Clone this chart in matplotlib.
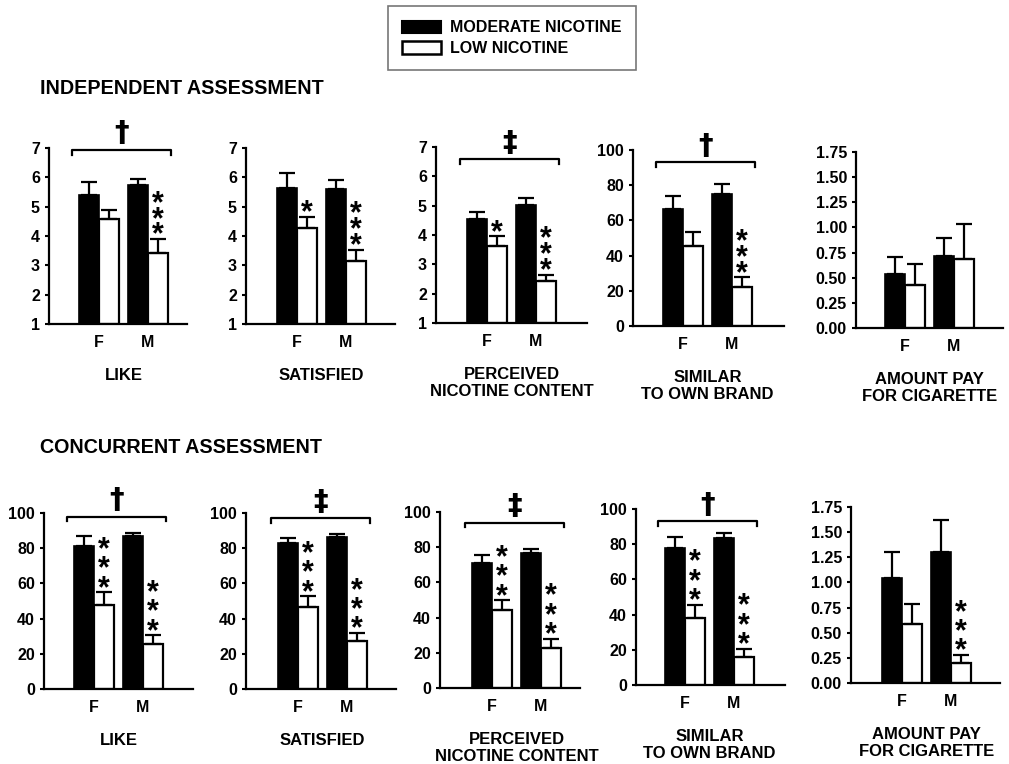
import numpy as np
import matplotlib
matplotlib.use("Agg")
import matplotlib.pyplot as plt
from matplotlib.patches import Patch

plt.rcParams['font.family'] = ['Liberation Sans', 'DejaVu Sans']
plt.rcParams['font.weight'] = 'bold'

# ---- data ----
groups = ["F", "M"]
titles = ["LIKE", "SATISFIED", "PERCEIVED\nNICOTINE CONTENT",
          "SIMILAR\nTO OWN BRAND", "AMOUNT PAY\nFOR CIGARETTE"]

# independent assessment
indep_mod = [[5.41, 5.75], [5.65, 5.61], [4.56, 5.01], [66.5, 74.8], [0.54, 0.72]]
indep_mod_err = [[0.42, 0.19], [0.50, 0.31], [0.23, 0.24], [7.4, 5.9], [0.17, 0.17]]
indep_low = [[4.58, 3.42], [4.27, 3.14], [3.64, 2.42], [45.5, 22.2], [0.43, 0.69]]
indep_low_err = [[0.32, 0.48], [0.38, 0.39], [0.31, 0.23], [7.9, 5.6], [0.21, 0.34]]
indep_stars = [[0, 3], [1, 3], [1, 3], [0, 3], [0, 0]]
indep_sig = ["\u2020", "", "\u2021", "\u2020", ""]

# concurrent assessment
conc_mod = [[81.3, 87.0], [82.8, 86.6], [71.3, 76.6], [77.7, 83.6], [1.04, 1.30]]
conc_mod_err = [[5.5, 1.5], [3.0, 1.7], [4.2, 2.4], [6.3, 2.8], [0.26, 0.32]]
conc_low = [[47.5, 25.5], [46.8, 27.0], [44.5, 23.0], [38.3, 15.8], [0.59, 0.20]]
conc_low_err = [[7.5, 5.1], [6.0, 4.9], [5.5, 5.1], [7.4, 4.8], [0.20, 0.08]]
conc_stars = [[3, 3], [3, 3], [3, 3], [3, 3], [0, 3]]
conc_sig = ["\u2020", "\u2021", "\u2021", "\u2020", ""]

indep_scales = [(1, 7, 1), (1, 7, 1), (1, 7, 1), (0, 100, 20), (0, 1.75, 0.25)]
conc_scales = [(0, 100, 20), (0, 100, 20), (0, 100, 20), (0, 100, 20), (0, 1.75, 0.25)]

# ---- layout (pixels) ----
W, H = 1009, 764
UNIT = 49.0   # px between F and M
# left, right, y of axis bottom, y of axis top, x of F group
top_boxes = [(49, 187, 324, 148, 99), (246, 395, 324, 148, 297), (436, 587, 323, 147, 487),
             (633, 784, 326, 150, 683), (856, 1003, 328, 152, 905)]
bot_boxes = [(44, 193, 689, 513, 94), (246, 396, 689, 513, 298), (440, 580, 688, 512, 492),
             (636, 785, 685, 509, 685), (851, 1000, 683, 507, 902)]
top_bracket_y = [0.99, None, 0.93, 0.93, None]
bot_bracket_y = [0.98, 0.97, 0.94, 0.93, None]

fig = plt.figure(figsize=(W / 100, H / 100), dpi=100)


def panel(box, scale, mod, mod_err, low, low_err, stars, sig, bracket_y, title, star_ls):
    left, right, yb, yt, fx = box
    ax = fig.add_axes([left / W, 1 - yb / H, (right - left) / W, (yb - yt) / H])
    x = np.arange(len(groups))
    w = 0.4
    ymin, ymax, step = scale
    ax.bar(x - w / 2, np.array(mod) - ymin, w, bottom=ymin, color='black', edgecolor='black', lw=1.2)
    ax.bar(x + w / 2, np.array(low) - ymin, w, bottom=ymin, color='white', edgecolor='black', lw=1.6)
    ax.errorbar(x - w / 2, mod, yerr=[np.zeros(2), mod_err], fmt='none', ecolor='black',
                elinewidth=1.6, capsize=5.5, capthick=1.6)
    ax.errorbar(x + w / 2, low, yerr=[np.zeros(2), low_err], fmt='none', ecolor='black',
                elinewidth=1.6, capsize=5.5, capthick=1.6)
    ax.set_xlim((left - fx) / UNIT, (right - fx) / UNIT)
    ax.set_ylim(ymin, ymax)
    ticks = np.arange(ymin, ymax + step / 2, step)
    ax.set_yticks(ticks)
    if step < 1:
        ax.set_yticklabels(['%.2f' % v for v in ticks])
    ax.set_xticks(x)
    ax.set_xticklabels(groups)
    for s in ['top', 'right']:
        ax.spines[s].set_visible(False)
    for s in ['left', 'bottom']:
        ax.spines[s].set_linewidth(1.6)
    ax.tick_params(axis='y', length=3, width=1.5, pad=3.5, labelsize=11.5)
    ax.tick_params(axis='x', length=0, pad=8, labelsize=11.5)

    # significance stars above the low nicotine bars
    for i in range(len(groups)):
        if stars[i] == 0:
            continue
        top = low[i] + low_err[i]
        ax.annotate('\n'.join(['*'] * stars[i]), xy=(x[i] + w / 2, top), xytext=(0, -8.5),
                    textcoords='offset points', ha='center', va='bottom', fontsize=22,
                    linespacing=star_ls)

    # bracket with dagger
    if sig:
        tr = ax.get_xaxis_transform()
        x0, x1 = -0.55, 1.47
        by = bracket_y
        ax.plot([x0, x0, x1, x1], [by - 0.028, by, by, by - 0.028], color='black', lw=1.6,
                transform=tr, clip_on=False)
        ax.annotate(sig, xy=((x0 + x1) / 2, by), xycoords=tr, xytext=(0, 12),
                    textcoords='offset points', ha='center', va='center', fontsize=21,
                    family=['DejaVu Sans'])

    ax.annotate(title, xy=(0.5, 0), xycoords=('data', 'axes fraction'), xytext=(0, -32),
                textcoords='offset points', ha='center', va='top', fontsize=12, linespacing=1.1)
    return ax


for i in range(5):
    panel(top_boxes[i], indep_scales[i], indep_mod[i], indep_mod_err[i], indep_low[i],
          indep_low_err[i], indep_stars[i], indep_sig[i], top_bracket_y[i], titles[i], 0.39)
    panel(bot_boxes[i], conc_scales[i], conc_mod[i], conc_mod_err[i], conc_low[i],
          conc_low_err[i], conc_stars[i], conc_sig[i], bot_bracket_y[i], titles[i], 0.54)

fig.text(40 / W, 1 - 88 / H, "INDEPENDENT ASSESSMENT", ha='left', va='center', fontsize=14.2)
fig.text(40 / W, 1 - 448 / H, "CONCURRENT ASSESSMENT", ha='left', va='center', fontsize=14.2)

handles = [Patch(facecolor='black', edgecolor='black', lw=1.5),
           Patch(facecolor='white', edgecolor='black', lw=1.8)]
leg = fig.legend(handles, ["MODERATE NICOTINE", "LOW NICOTINE"], loc='upper left',
                 bbox_to_anchor=(388 / W, 1 - 6 / H), fontsize=11.5, frameon=True, fancybox=False,
                 handlelength=2.4, handleheight=0.8, handletextpad=0.6, borderpad=0.9,
                 labelspacing=0.35, borderaxespad=0)
leg.get_frame().set_edgecolor('#555555')
leg.get_frame().set_linewidth(1.2)

fig.savefig("out.png", dpi=100, facecolor='white')
